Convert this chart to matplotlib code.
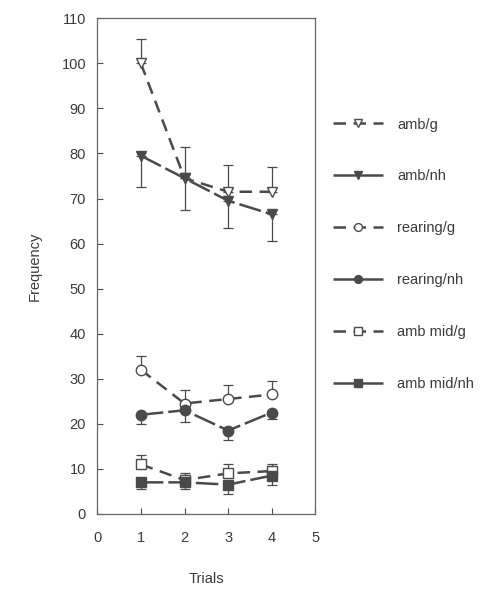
import matplotlib
matplotlib.use('Agg')
import matplotlib.pyplot as plt

plt.rcParams['font.family'] = ['Liberation Sans', 'DejaVu Sans']

trials = [1, 2, 3, 4]

# means and one-sided error bars
amb_g = [100, 74.5, 71.5, 71.5]
amb_g_err = [5.5, 7, 6, 5.5]
amb_nh = [79.5, 74.5, 69.5, 66.5]
amb_nh_err = [7, 7, 6, 6]
rear_g = [32, 24.5, 25.5, 26.5]
rear_g_err = [3, 3, 3, 3]
rear_nh = [22, 23, 18.5, 22.5]
rear_nh_err = [2, 2.5, 2, 1.5]
mid_g = [11, 7.5, 9, 9.5]
mid_g_err = [2, 1.5, 2, 1.5]
mid_nh = [7, 7, 6.5, 8.5]
mid_nh_err = [1.5, 1.5, 2, 2]

labels = ['amb/g', 'amb/nh', 'rearing/g', 'rearing/nh', 'amb mid/g', 'amb mid/nh']
xticks = [0, 1, 2, 3, 4, 5]
yticks = list(range(0, 111, 10))

col = '#4a4a4a'
txt = '#3a3a3a'
fs = 10.5

fig = plt.figure(figsize=(4.96, 5.90), dpi=100)
ax = fig.add_axes([0.196, 0.129, 0.440, 0.840])

series = [
    (amb_g, amb_g_err, 'v', 'white', 'up', (5, 3)),
    (amb_nh, amb_nh_err, 'v', col, 'down', (9, 2)),
    (rear_g, rear_g_err, 'o', 'white', 'up', (5, 3)),
    (rear_nh, rear_nh_err, 'o', col, 'down', (9, 2)),
    (mid_g, mid_g_err, 's', 'white', 'up', (5, 3)),
    (mid_nh, mid_nh_err, 's', col, 'down', (9, 2)),
]

handles = []
for (y, e, m, fc, side, dash), lab in zip(series, labels):
    zeros = [0] * len(e)
    yerr = [zeros, e] if side == 'up' else [e, zeros]
    ax.errorbar(trials, y, yerr=yerr, fmt='none', ecolor=col, elinewidth=0.9,
                capsize=3.5, capthick=0.9, zorder=2)
    ln, = ax.plot(trials, y, color=col, lw=1.8, dashes=dash, marker=m,
                  markersize=7.5, markerfacecolor=fc, markeredgecolor=col,
                  markeredgewidth=1.0, label=lab, zorder=3)
    handles.append(ln)

ax.set_xlim(0, 5)
ax.set_ylim(0, 110)
ax.set_xticks(xticks)
ax.set_yticks(yticks)
ax.tick_params(direction='in', length=4, width=0.8, colors=col, labelcolor=txt,
               labelsize=fs)
ax.tick_params(axis='x', pad=12)
ax.tick_params(axis='y', pad=8)
for s in ax.spines.values():
    s.set_color('#666666')
    s.set_linewidth(0.9)

ax.set_ylabel('Frequency', fontsize=fs, color=txt, labelpad=14)
ax.set_xlabel('Trials', fontsize=fs, color=txt, labelpad=20)

fig.legend(handles=handles, labels=labels, loc='upper left',
           bbox_to_anchor=(0.645, 0.823), frameon=False, fontsize=fs,
           labelspacing=2.6, handlelength=3.4, handletextpad=1.0,
           labelcolor=txt, markerscale=0.75)

fig.savefig('out.png', dpi=100)
